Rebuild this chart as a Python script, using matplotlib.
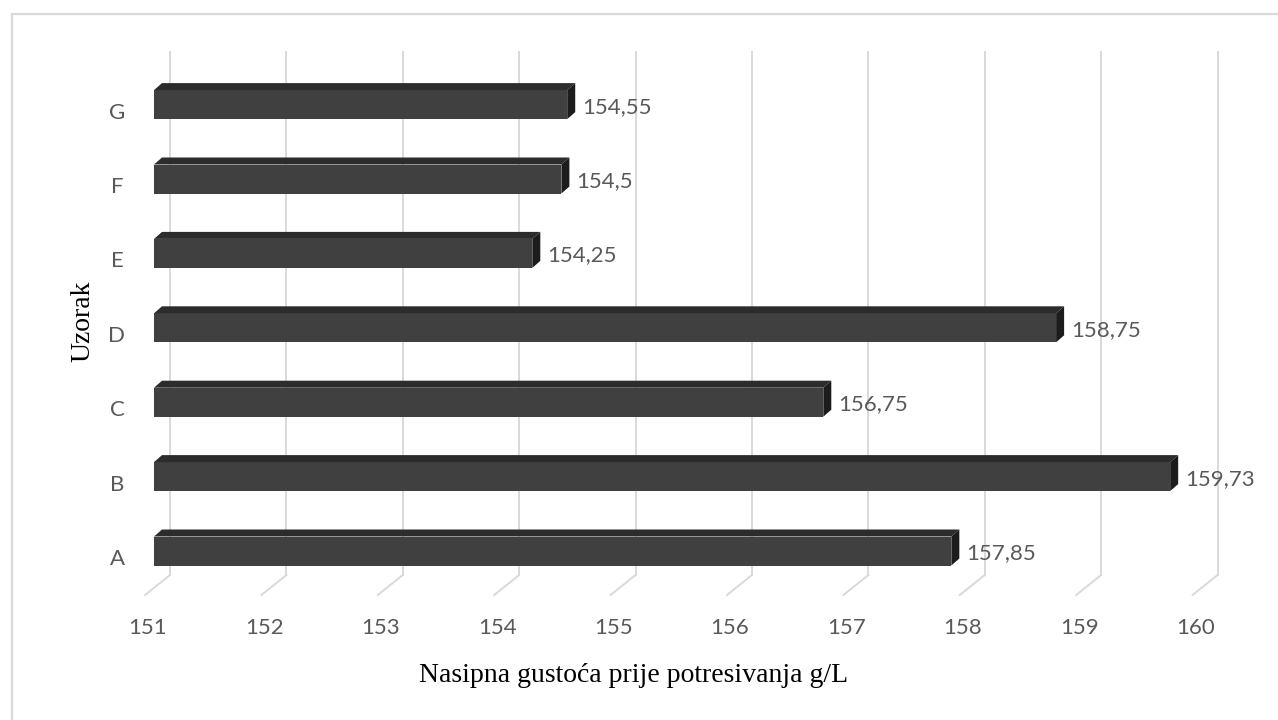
import matplotlib
matplotlib.use("Agg")
import matplotlib.pyplot as plt
from matplotlib.patches import Polygon
from matplotlib.lines import Line2D

categories = ["A", "B", "C", "D", "E", "F", "G"]
values = [157.85, 159.73, 156.75, 158.75, 154.25, 154.5, 154.55]
value_labels = ["157,85", "159,73", "156,75", "158,75", "154,25", "154,5", "154,55"]
ticks = [151, 152, 153, 154, 155, 156, 157, 158, 159, 160]

W, H = 1278, 720
# pixel geometry of the bar front plane
X0, SX = 154, 116.4      # pixel of 151, pixels per unit
Y0, SY = 551, 74.4       # pixel of category A centre, pixels per category


def px2x(px):
    return 151 + (px - X0) / SX


def px2y(py):
    return (Y0 - py) / SY


fig = plt.figure(figsize=(W / 100, H / 100), dpi=100)
ax_top, ax_bot = 40, 600
ax = fig.add_axes([X0 / W, 1 - ax_bot / H, 9 * SX / W, (ax_bot - ax_top) / H])
ax.set_xlim(151, 160)
ax.set_ylim(px2y(ax_bot), px2y(ax_top))
ax.axis("off")

grid_c = "#d9d9d9"
for t in ticks:
    xb = t + 16 / SX
    ax.plot([xb, xb], [px2y(52), px2y(575)], color=grid_c, lw=1.4, zorder=0, clip_on=False)
    ax.plot([xb, xb - 25 / SX], [px2y(575), px2y(595)], color=grid_c, lw=1.4, zorder=0, clip_on=False)

h = 29 / SY
ddx, ddy = 8 / SX, 7 / SY
idx = list(range(len(categories)))
ax.barh(idx, [v - 151 for v in values], left=151, height=h, color="#404040", zorder=2)
for i, v in zip(idx, values):
    top, bot = i + h / 2, i - h / 2
    ax.add_patch(Polygon([(151, top), (v, top), (v + ddx, top + ddy), (151 + ddx, top + ddy)],
                         closed=True, facecolor="#2c2c2c", edgecolor="none", zorder=3, clip_on=False))
    ax.add_patch(Polygon([(v, bot), (v, top), (v + ddx, top + ddy), (v + ddx, bot + ddy)],
                         closed=True, facecolor="#1c1c1c", edgecolor="none", zorder=3, clip_on=False))

sans = "Lato"
txt_c = "#595959"
fs = 16
for i, v, lab in zip(idx, values, value_labels):
    ax.text(v + 15 / SX, i - 2 / SY, lab, ha="left", va="center", fontsize=fs,
            family=sans, color=txt_c, clip_on=False)

for i, c in zip(idx, categories):
    ax.text(px2x(117), i - 8 / SY, c, ha="center", va="center", fontsize=fs,
            family=sans, color=txt_c, clip_on=False)

for t in ticks:
    ax.text(t - 6 / SX, px2y(628), str(t), ha="center", va="center", fontsize=fs,
            family=sans, color=txt_c, clip_on=False)

fig.text(634 / W, 1 - 676 / H, "Nasipna gustoća prije potresivanja g/L", ha="center", va="center",
         fontsize=20, family="Liberation Serif", color="black")
fig.text(83 / W, 1 - 321 / H, "Uzorak", ha="center", va="center", rotation=90,
         fontsize=20, family="Liberation Serif", color="black")

# outer chart frame
fig.add_artist(Line2D([12 / W, 1], [1 - 14 / H, 1 - 14 / H], color=grid_c, lw=1.6))
fig.add_artist(Line2D([12 / W, 12 / W], [1 - 14 / H, 0], color=grid_c, lw=1.6))

fig.savefig("out.png", dpi=100)
